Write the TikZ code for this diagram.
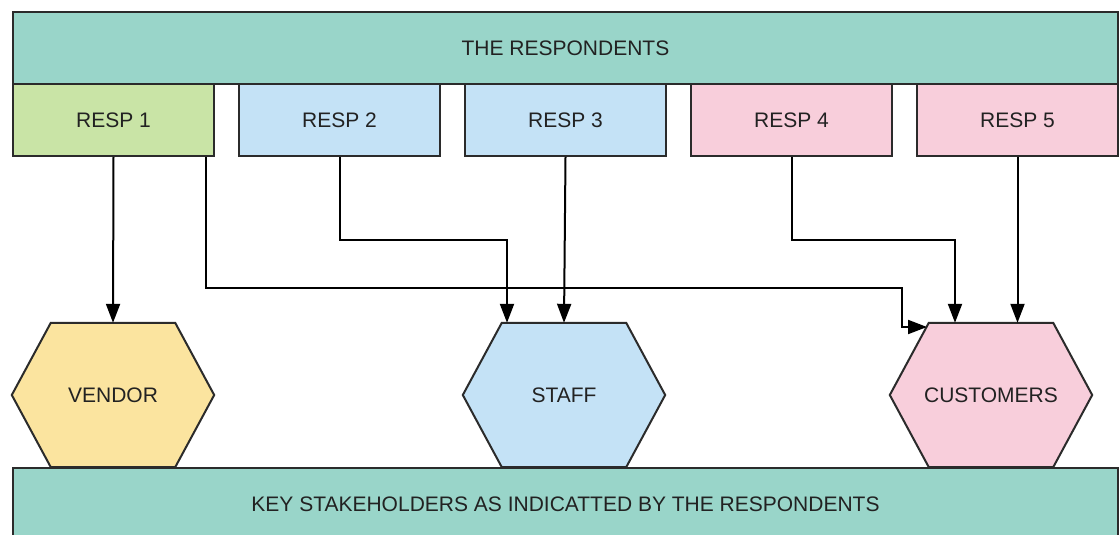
\documentclass[tikz,border=0pt]{standalone}
\usepackage{fontspec}
\setmainfont{Liberation Sans}
\usetikzlibrary{arrows.meta,backgrounds}
\definecolor{tealc}{HTML}{99D5C9}
\definecolor{greenc}{HTML}{C9E4A6}
\definecolor{bluec}{HTML}{C4E2F6}
\definecolor{pinkc}{HTML}{F8CEDB}
\definecolor{yellowc}{HTML}{FBE49F}
\definecolor{textc}{HTML}{222222}
\definecolor{linec}{HTML}{2B2B2B}
\begin{document}
\begin{tikzpicture}[x=1pt,y=-1pt,
  every node/.style={font=\fontsize{21}{25}\selectfont, text=textc},
  bar/.style={draw=linec, line width=2pt, fill=tealc, minimum width=1105pt, minimum height=72pt, anchor=north west, inner sep=0pt},
  respbox/.style={draw=linec, line width=2pt, minimum width=201pt, minimum height=72pt, anchor=north west, inner sep=0pt},
  hexnode/.style={minimum width=202pt, minimum height=144pt, inner sep=0pt},
  hexline/.style={draw=linec, line width=2pt, line join=miter},
  conn/.style={draw=black, line width=2pt, -{Triangle[length=19pt,width=14pt]}}
]
\clip (0,0) rectangle (1119,535);
\useasboundingbox (0,0) rectangle (1119,535);

% hexagon text nodes
\node[hexnode] (vendor) at (113,395) {VENDOR};
\node[hexnode] (staff) at (564,395) {STAFF};
\node[hexnode] (cust) at (991,395) {CUSTOMERS};

\begin{scope}[on background layer]
\fill[white] (0,0) rectangle (1119,535);
\foreach \h/\hc in {vendor/yellowc, staff/bluec, cust/pinkc}{
  \path[hexline, fill=\hc] (\h.west) -- ([xshift=39pt]\h.north west) -- ([xshift=-39pt]\h.north east)
    -- (\h.east) -- ([xshift=-39pt]\h.south east) -- ([xshift=39pt]\h.south west) -- cycle;
}
\end{scope}

% top bar and respondent boxes
\node[bar] (top) at (12,11) {THE RESPONDENTS};
\node[respbox, fill=greenc] (r1) at (12,83) {RESP 1};
\node[respbox, fill=bluec] (r2) at (238,83) {RESP 2};
\node[respbox, fill=bluec] (r3) at (464,83) {RESP 3};
\node[respbox, fill=pinkc] (r4) at (690,83) {RESP 4};
\node[respbox, fill=pinkc] (r5) at (916,83) {RESP 5};

% bottom bar
\node[bar] (bottom) at (12,467) {KEY STAKEHOLDERS AS INDICATTED BY THE RESPONDENTS};

% connectors
\coordinate (j1) at (902,288);
\coordinate (custin) at (927,327);
\coordinate (j2) at (507,240);
\coordinate (j4) at (955,240);

\draw[conn] (r1.south) -- (vendor.north);
\draw[conn] ([xshift=-9pt]r1.south east) |- (j1) |- (custin);
\draw[conn] (r2.south) |- (j2) -- (j2 |- staff.north);
\draw[conn] (r3.south) -- (staff.north);
\draw[conn] (r4.south) |- (j4) -- (j4 |- cust.north);
\draw[conn] (r5.south) -- (r5.south |- cust.north);
\end{tikzpicture}
\end{document}
